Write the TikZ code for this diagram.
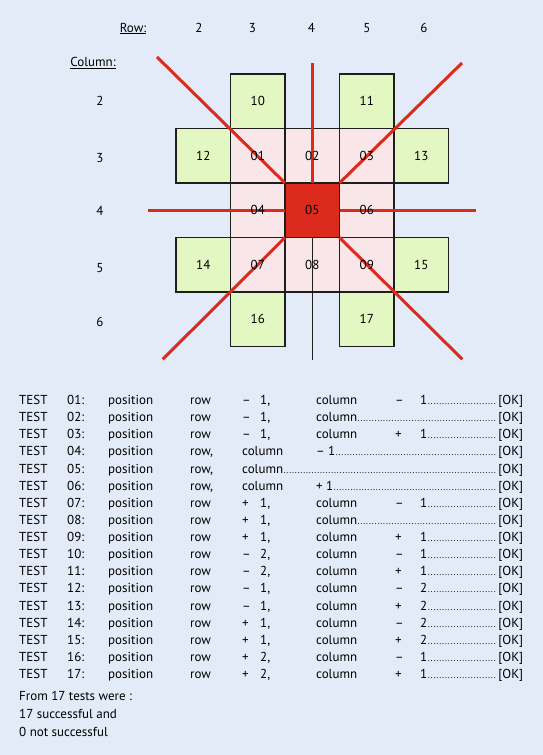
\documentclass[tikz,border=0pt]{standalone}
\usepackage{fontspec}
\setmainfont{PT Sans}
\usepackage{tikz}
\usetikzlibrary{positioning}
\definecolor{gdBack}{HTML}{E3EAF8}
\definecolor{gdGreen}{HTML}{E2F7C2}
\definecolor{gdPink}{HTML}{F9E6E8}
\definecolor{gdRed}{HTML}{DC2B1D}
\definecolor{gdInk}{HTML}{1E1E1E}
\tikzset{
  cell/.style={rectangle,minimum width=54.5pt,minimum height=54.5pt,
    draw=gdInk,line width=1.4pt,inner sep=0pt,outer sep=0pt},
  gcell/.style={cell,fill=gdGreen},
  pcell/.style={cell,fill=gdPink},
  rcell/.style={cell,fill=gdRed},
  num/.style={font=\fontsize{13}{15}\selectfont,text=black,inner sep=0pt},
  hdr/.style={font=\fontsize{13}{15}\selectfont,anchor=base,inner sep=0pt},
  trow/.style={font=\fontsize{13}{15}\selectfont,anchor=base west,inner sep=0pt},
  ray/.style={draw=gdRed,line width=3pt},
  axis/.style={draw=gdInk,line width=1.2pt},
}
\newcommand\okdots{\xleaders\hbox to 2.8pt{\hss\fontsize{9}{9}\selectfont.\hss}\hfill}
\newcommand\tc[2]{\makebox[#1pt][l]{#2}}
% row -/+ n, column -/+ m
\newcommand\rc[4]{\tc{52}{row}\tc{18}{#1}\tc{56}{#2,}\tc{79}{column}\tc{25}{#3}#4\okdots}
% row -/+ n, column
\newcommand\rn[2]{\tc{52}{row}\tc{18}{#1}\tc{56}{#2,}column\okdots}
\newcommand\tline[2]{\hbox to 504pt{\tc{48}{TEST}\tc{41}{#1:}\tc{82}{position}#2\,[OK]}}

\begin{document}
\begin{tikzpicture}[x=1pt,y=-1pt]
  \path[use as bounding box,fill=gdBack] (0,0) rectangle (543,755);

  % header
  \node[hdr] (rowlbl) at (133,32) {\underline{Row:}};
  \node[hdr] (h2) at (199,32) {2};
  \node[hdr] (h3) at (252.5,32) {3};
  \node[hdr] (h4) at (311.5,32) {4};
  \node[hdr] (h5) at (367,32) {5};
  \node[hdr] (h6) at (424,32) {6};
  \node[hdr] (collbl) at (93,66.5) {\underline{Column:}};
  \node[hdr] (v2) at (100,105.5) {2};
  \node[hdr] (v3) at (100,162.5) {3};
  \node[hdr] (v4) at (100,215.5) {4};
  \node[hdr] (v5) at (100,272.5) {5};
  \node[hdr] (v6) at (100,326.5) {6};

  % grid
  \node[rcell] (c05) at (312.25,210.25) {};
  \node[pcell,above=0pt of c05] (c02) {};
  \node[pcell,left=0pt of c05] (c04) {};
  \node[pcell,right=0pt of c05] (c06) {};
  \node[pcell,below=0pt of c05] (c08) {};
  \node[pcell,left=0pt of c02] (c01) {};
  \node[pcell,right=0pt of c02] (c03) {};
  \node[pcell,left=0pt of c08] (c07) {};
  \node[pcell,right=0pt of c08] (c09) {};
  \node[gcell,left=0pt of c01] (c12) {};
  \node[gcell,right=0pt of c03] (c13) {};
  \node[gcell,left=0pt of c07] (c14) {};
  \node[gcell,right=0pt of c09] (c15) {};
  \node[gcell,above=0pt of c01] (c10) {};
  \node[gcell,above=0pt of c03] (c11) {};
  \node[gcell,below=0pt of c07] (c16) {};
  \node[gcell,below=0pt of c09] (c17) {};

  % rays
  \coordinate (rTL) at (157,57);
  \coordinate (rT) at (312.25,63);
  \coordinate (rTR) at (462,63);
  \coordinate (rL) at (147.7,210.25);
  \coordinate (rR) at (475.7,210.25);
  \coordinate (rBL) at (162.7,359.3);
  \coordinate (rBR) at (462.3,359.3);
  \coordinate (aB) at (312.25,360);
  \draw[ray] (rTL) -- (c05.north west);
  \draw[ray] (rT) -- (c05.north);
  \draw[ray] (rTR) -- (c05.north east);
  \draw[ray] (rL) -- (c05.west);
  \draw[ray] (rR) -- (c05.east);
  \draw[ray] (rBL) -- (c05.south west);
  \draw[ray] (rBR) -- (c05.south east);
  \draw[axis] (c05.south) -- (aB);

  \foreach \n in {01,02,03,04,05,06,07,08,09,10,11,12,13,14,15,16,17}
    \node[num] (n\n) at (c\n) {\n};

  % test list
  \foreach \i/\b [count=\k] in {
      01/{\rc{–}{1}{–}{1}},
      02/{\rn{–}{1}},
      03/{\rc{–}{1}{+}{1}},
      04/{\tc{52}{row,}\tc{74}{column}– 1\okdots},
      05/{\tc{52}{row,}column\okdots},
      06/{\tc{52}{row,}\tc{74}{column}+ 1\okdots},
      07/{\rc{+}{1}{–}{1}},
      08/{\rn{+}{1}},
      09/{\rc{+}{1}{+}{1}},
      10/{\rc{–}{2}{–}{1}},
      11/{\rc{–}{2}{+}{1}},
      12/{\rc{–}{1}{–}{2}},
      13/{\rc{–}{1}{+}{2}},
      14/{\rc{+}{1}{–}{2}},
      15/{\rc{+}{1}{+}{2}},
      16/{\rc{+}{2}{–}{1}},
      17/{\rc{+}{2}{+}{1}}}
    \node[trow] (t\i) at (19,{404.5+17.125*(\k-1)}) {\tline{\i}{\b}};

  \node[trow] (sum1) at (19,700.5) {From 17 tests were :};
  \node[trow] (sum2) at (19,718.5) {17 successful and};
  \node[trow] (sum3) at (19,736.5) {0 not successful};
\end{tikzpicture}
\end{document}
